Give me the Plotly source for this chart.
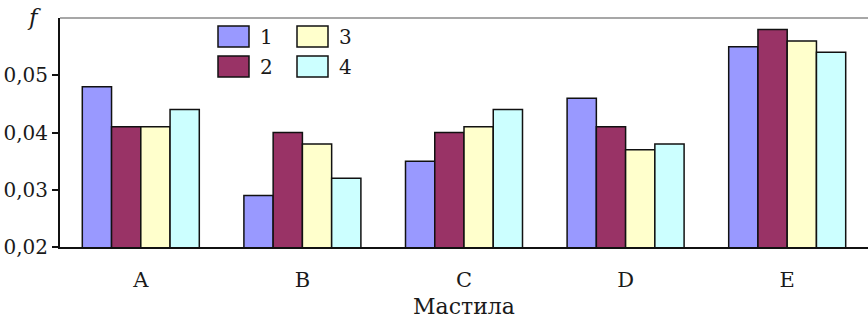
import plotly.graph_objects as go

# Categories (inks) and the four series of f values
categories = ["A", "B", "C", "D", "E"]
series_names = ["1", "2", "3", "4"]
series_1 = [0.048, 0.029, 0.035, 0.046, 0.055]
series_2 = [0.041, 0.040, 0.040, 0.041, 0.058]
series_3 = [0.041, 0.038, 0.041, 0.037, 0.056]
series_4 = [0.044, 0.032, 0.044, 0.038, 0.054]
y_ticks = [0.02, 0.03, 0.04, 0.05]

series = [series_1, series_2, series_3, series_4]
colors = ["#9999FF", "#993366", "#FFFFCC", "#CCFFFF"]

FONT = "DejaVu Serif"
TEXT = "#1a1a1a"

W, H = 868, 325
ML, MR, MT, MB = 60, 0, 18, 78
PW, PH = W - ML - MR, H - MT - MB

fig = go.Figure()
for name, vals, col in zip(series_names, series, colors):
    fig.add_trace(go.Bar(
        x=categories, y=vals, name=name,
        marker=dict(color=col, line=dict(color="#111111", width=1.5)),
        showlegend=False,
    ))

# Frame line along the top of the plotting area
fig.add_shape(type="line", xref="paper", yref="paper", x0=0, x1=1, y0=1, y1=1,
              line=dict(color="#8a8a8a", width=1.5))


def px_x(px):
    return (px - ML) / PW


def px_y(py):
    return (H - MB - py) / PH


# Two-column key: series 1,2 on the left, 3,4 on the right
box_w, box_h = 31, 21
col_x = [218, 297]
row_y = [26, 56]
for i, (name, col) in enumerate(zip(series_names, colors)):
    cx = col_x[i // 2]
    ry = row_y[i % 2]
    fig.add_shape(type="rect", xref="paper", yref="paper",
                  x0=px_x(cx), x1=px_x(cx + box_w),
                  y0=px_y(ry + box_h), y1=px_y(ry),
                  fillcolor=col, line=dict(color="#111111", width=1.5))
    fig.add_annotation(xref="paper", yref="paper",
                       x=px_x(cx + box_w + 9), y=px_y(ry + box_h / 2),
                       text=name, showarrow=False, xanchor="left", yanchor="middle",
                       font=dict(family=FONT, size=20, color=TEXT))

# Y-axis symbol
fig.add_annotation(xref="paper", yref="paper", x=px_x(34), y=px_y(17),
                   text="<i>f</i>", showarrow=False, xanchor="center", yanchor="middle",
                   font=dict(family=FONT, size=23, color=TEXT))

fig.update_layout(
    width=W, height=H,
    margin=dict(l=ML, r=MR, t=MT, b=MB, pad=0),
    paper_bgcolor="white", plot_bgcolor="white",
    barmode="group", bargap=0.276, bargroupgap=0,
    separators=", ",
    font=dict(family=FONT, color=TEXT),
    xaxis=dict(
        range=[-0.5, 4.5], showgrid=False, zeroline=False,
        showline=True, linecolor="#111111", linewidth=2,
        ticks="", ticklabelstandoff=13,
        tickfont=dict(family=FONT, size=21, color=TEXT),
        title=dict(text="Мастила", standoff=7,
                   font=dict(family=FONT, size=22, color=TEXT)),
    ),
    yaxis=dict(
        range=[0.02, 0.06], tickvals=y_ticks, tickformat=".2f",
        showgrid=False, zeroline=False,
        showline=True, linecolor="#111111", linewidth=2,
        ticks="outside", ticklen=6, tickwidth=1.5, tickcolor="#111111",
        tickfont=dict(family=FONT, size=20, color=TEXT),
    ),
)

fig.write_html("out.html")
